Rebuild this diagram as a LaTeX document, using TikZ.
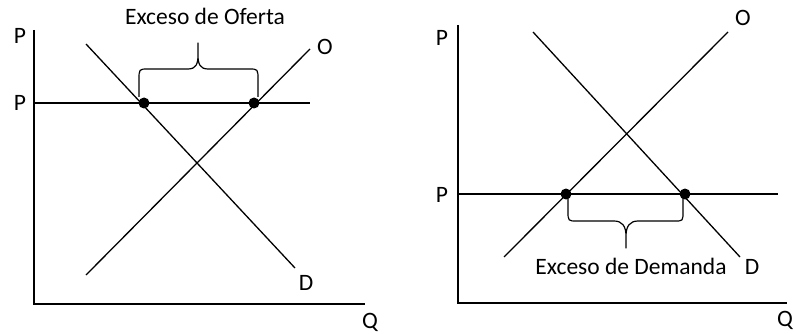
\documentclass[tikz,border=0pt]{standalone}
\usepackage{fontspec}
\setmainfont{Carlito}
\begin{document}
\begin{tikzpicture}[x=1pt,y=-1pt,
  curve/.style={line width=1.3pt},
  axis/.style={line width=1.6pt},
  lbl/.style={font=\fontsize{23.5}{27}\selectfont, inner sep=0pt},
  pt/.style={circle, fill=black, inner sep=0pt, minimum size=11pt},
  brc/.style={line width=1.2pt, line join=round}]
\useasboundingbox (0,0) rectangle (794,334);
% ---------- left panel ----------
\coordinate (Lo) at (34,304);
\coordinate (Ltop) at (34,30);
\coordinate (Lright) at (365,304);
\draw[axis] (Ltop) -- (Lo) -- (Lright);
\coordinate (Lp0) at (34,103);
\coordinate (Lp1) at (310,103);
\draw[curve] (Lp0) -- (Lp1);
\coordinate (LD0) at (86,44);
\coordinate (LD1) at (295,268);
\draw[curve] (LD0) -- (LD1);
\coordinate (LS0) at (86,275);
\coordinate (LS1) at (310,49);
\draw[curve] (LS0) -- (LS1);
\node[pt] (La) at (144,103) {};
\node[pt] (Lb) at (254,103) {};
% brace (upward)
\draw[brc] (139,97) -- (139,80) .. controls (139,69) .. (148,69) -- (188,69)
  .. controls (196,69) and (198,64) .. (198,55) -- (198,43) -- (198,55)
  .. controls (198,64) and (200,69) .. (208,69) -- (249,69)
  .. controls (258,69) .. (258,80) -- (258,97);
\node[lbl] (Ltitle) at (205,16) {Exceso de Oferta};
\node[lbl] (LPt) at (20,36) {P};
\node[lbl] (LPp) at (20,103) {P};
\node[lbl] (LO) at (325,47) {O};
\node[lbl] (LD) at (306,283) {D};
\node[lbl] (LQ) at (370,322) {Q};
% ---------- right panel ----------
\coordinate (Ro) at (458,303);
\coordinate (Rtop) at (458,25);
\coordinate (Rright) at (787,303);
\draw[axis] (Rtop) -- (Ro) -- (Rright);
\coordinate (Rp0) at (458,194);
\coordinate (Rp1) at (778,194);
\draw[curve] (Rp0) -- (Rp1);
\coordinate (RD0) at (533,32);
\coordinate (RD1) at (740,257);
\draw[curve] (RD0) -- (RD1);
\coordinate (RS0) at (504,257);
\coordinate (RS1) at (728,32);
\draw[curve] (RS0) -- (RS1);
\node[pt] (Ra) at (566,194) {};
\node[pt] (Rb) at (685,194) {};
% brace (downward)
\draw[brc] (568,198) -- (568,211) .. controls (568,221) .. (577,221) -- (614,221)
  .. controls (622,221) and (626,226) .. (626,236) -- (626,248) -- (626,236)
  .. controls (626,226) and (630,221) .. (638,221) -- (675,221)
  .. controls (683,221) .. (683,211) -- (683,198);
\node[lbl] (Rtitle) at (631,266) {Exceso de Demanda};
\node[lbl] (RPt) at (442,38) {P};
\node[lbl] (RPp) at (442,195) {P};
\node[lbl] (RO) at (743,18) {O};
\node[lbl] (RD) at (752,267) {D};
\node[lbl, anchor=east] (RQ) at (793,320) {Q};
\end{tikzpicture}
\end{document}
